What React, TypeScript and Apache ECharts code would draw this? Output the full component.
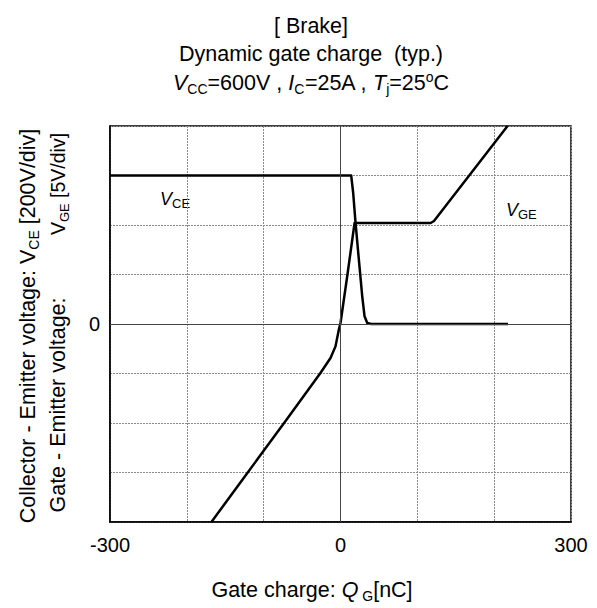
import React, { useEffect, useRef } from "react";
import * as echarts from "echarts";

const xTickLabels = [-300, 0, 300];
const yTickLabels = [0];
// V_CE in volts (200 V/div), Q_G in nC
const vceData: number[][] = [
  [-300, 600], [13.9, 600], [16.5, 530], [19.6, 408], [23.9, 260],
  [28.3, 112], [31.3, 31], [34.8, 4], [40, 0], [218, 0],
];
// V_GE in volts (5 V/div)
const vgeData: number[][] = [
  [-168, -20], [-121.7, -15.1], [-69.6, -9.6], [-26.1, -4.95], [-13, -3.44],
  [-6.5, -2.26], [-2.2, -0.58], [0, 0.1], [8.7, 4.8], [18.3, 10.2],
  [117.4, 10.2], [121.7, 10.4], [165, 14.75], [217.4, 20],
];

const FONT = '"Liberation Sans", Arial, Helvetica, sans-serif';
const TS = 21.5;

export default function App() {
  const ref = useRef<HTMLDivElement>(null);
  useEffect(() => {
    if (!ref.current) return;
    const chart = echarts.init(ref.current, undefined, { renderer: "svg" });
    const n = { fontSize: TS, fontFamily: FONT, color: "#000", lineHeight: 26 };
    const it = { ...n, fontStyle: "italic" };
    const sub = { fontSize: 14, fontFamily: FONT, color: "#000", lineHeight: 13, verticalAlign: "bottom" };
    const sup = { fontSize: 14, fontFamily: FONT, color: "#000", lineHeight: 13, verticalAlign: "top" };
    const n2 = { ...n, fontSize: 19.5 };
    const sub2 = { ...sub, fontSize: 13 };
    const splitLine = { show: true, lineStyle: { color: "#8a8a8a", type: [2, 1], width: 1 } };
    chart.setOption({
      animation: false,
      backgroundColor: "#fff",
      grid: { left: 110, right: 26, top: 126, bottom: 86, show: true, borderColor: "#000", borderWidth: 1.5, backgroundColor: "transparent" },
      xAxis: {
        type: "value", min: -300, max: 300, interval: 100,
        axisLine: { show: true, onZero: false, lineStyle: { color: "#000", width: 1.5 } },
        axisTick: { show: false },
        axisLabel: {
          fontSize: 20, fontFamily: FONT, color: "#000", margin: 13,
          formatter: (v: number) => (xTickLabels.includes(v) ? String(v) : ""),
        },
        splitLine,
      },
      yAxis: [
        {
          type: "value", min: -800, max: 800, interval: 200,
          axisLine: { show: true, onZero: false, lineStyle: { color: "#000", width: 1.5 } },
          axisTick: { show: false },
          axisLabel: {
            fontSize: 20, fontFamily: FONT, color: "#000", margin: 10,
            formatter: (v: number) => (yTickLabels.includes(v) ? String(v) : ""),
          },
          splitLine,
        },
        { type: "value", min: -20, max: 20, interval: 5, show: false, splitLine: { show: false } },
      ],
      series: [
        {
          name: "VCE", type: "line", yAxisIndex: 0, data: vceData, showSymbol: false, symbol: "none",
          lineStyle: { color: "#000", width: 2.5, join: "round" }, clip: true,
          markLine: {
            silent: true, symbol: "none", label: { show: false },
            lineStyle: { color: "#444", type: "solid", width: 1 },
            data: [{ xAxis: 0 }, { yAxis: 0 }],
          },
          z: 3,
        },
        {
          name: "VGE", type: "line", yAxisIndex: 1, data: vgeData, showSymbol: false, symbol: "none",
          lineStyle: { color: "#000", width: 2.5, join: "round" }, clip: true, z: 3,
        },
      ],
      graphic: [
        { type: "text", x: 311, y: 26, style: { text: "[ Brake]", fontSize: TS, fontFamily: FONT, fill: "#000", align: "center", verticalAlign: "middle" } },
        { type: "text", x: 311, y: 54, style: { text: "Dynamic gate charge  (typ.)", fontSize: TS, fontFamily: FONT, fill: "#000", align: "center", verticalAlign: "middle" } },
        {
          type: "text", x: 311, y: 83,
          style: {
            text: "{i|V}{s|CC}{n|=600V , }{i|I}{s|C}{n|=25A , }{i|T}{s|j}{n|=25}{p|o}{n|C}",
            rich: { n, i: it, s: sub, p: sup }, align: "center", verticalAlign: "middle",
          },
        },
        {
          type: "text", x: 28, y: 326, rotation: Math.PI / 2,
          style: {
            text: "{n|Collector - Emitter voltage: V}{s|CE}{n| [200V/div]}",
            rich: { n, s: sub }, align: "center", verticalAlign: "middle",
          },
        },
        {
          type: "text", x: 58, y: 405, rotation: Math.PI / 2,
          style: { text: "Gate - Emitter voltage:", fontSize: TS, fontFamily: FONT, fill: "#000", align: "center", verticalAlign: "middle" },
        },
        {
          type: "text", x: 58, y: 184, rotation: Math.PI / 2,
          style: {
            text: "{n|V}{s|GE}{n| [5V/div]}",
            rich: { n: n2, s: sub2 }, align: "center", verticalAlign: "middle",
          },
        },
        {
          type: "text", x: 312, y: 590,
          style: {
            text: "{n|Gate charge: }{i|Q}{s| G}{n|[nC]}",
            rich: { n, i: it, s: sub }, align: "center", verticalAlign: "middle",
          },
        },
        {
          type: "text", x: 160, y: 199,
          style: {
            text: "{i|V}{s|CE}",
            rich: { i: { ...it, fontSize: 18, lineHeight: 22 }, s: { ...sub, fontSize: 13, lineHeight: 12 } },
            align: "left", verticalAlign: "middle",
          },
        },
        {
          type: "text", x: 506, y: 210,
          style: {
            text: "{i|V}{s|GE}",
            rich: { i: { ...it, fontSize: 18, lineHeight: 22 }, s: { ...sub, fontSize: 13, lineHeight: 12 } },
            align: "left", verticalAlign: "middle",
          },
        },
      ],
    });
    return () => chart.dispose();
  }, []);
  return <div ref={ref} style={{ position: "fixed", left: 0, top: 0, width: 597, height: 608, background: "#fff" }} />;
}
